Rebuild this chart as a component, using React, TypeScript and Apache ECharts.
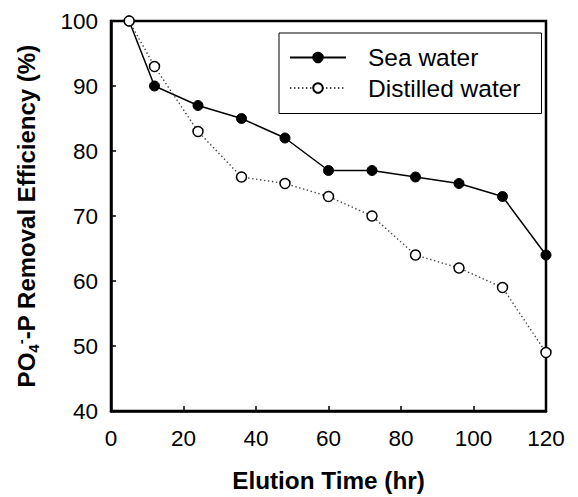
import React, { useEffect, useRef } from "react";
import * as echarts from "echarts";

const times = [5, 12, 24, 36, 48, 60, 72, 84, 96, 108, 120];
const seaWater = [100, 90, 87, 85, 82, 77, 77, 76, 75, 73, 64];
const distilledWater = [100, 93, 83, 76, 75, 73, 70, 64, 62, 59, 49];
const xTicks = [0, 20, 40, 60, 80, 100, 120];
const yTicks = [40, 50, 60, 70, 80, 90, 100];

const FONT = "Liberation Sans, Arial, sans-serif";

export default function App() {
  const ref = useRef<HTMLDivElement>(null);
  useEffect(() => {
    if (!ref.current) return;
    const chart = echarts.init(ref.current, undefined, { renderer: "svg" });
    chart.setOption({
      animation: false,
      backgroundColor: "#fff",
      grid: {
        left: 111,
        right: 32,
        top: 21,
        bottom: 81,
        show: true,
        borderColor: "#000",
        borderWidth: 2.5,
        backgroundColor: "transparent",
      },
      legend: {
        orient: "vertical",
        left: 279,
        top: 33,
        padding: [12, 21, 13, 10],
        itemGap: 5.5,
        itemWidth: 56,
        itemHeight: 12,
        borderColor: "#000",
        borderWidth: 1,
        backgroundColor: "#fff",
        textStyle: {
          fontFamily: FONT,
          fontSize: 24.5,
          color: "#000",
          padding: [0, 0, 0, 17],
        },
        data: ["Sea water", "Distilled water"],
      },
      xAxis: {
        type: "value",
        min: xTicks[0],
        max: xTicks[xTicks.length - 1],
        interval: 20,
        name: "Elution Time (hr)",
        nameLocation: "middle",
        nameGap: 57,
        nameTextStyle: {
          fontFamily: FONT,
          fontSize: 24.3,
          fontWeight: "bold",
          color: "#000",
        },
        axisLine: { show: true, onZero: false, lineStyle: { color: "#000", width: 2.5 } },
        axisTick: { show: true, inside: true, length: 5, lineStyle: { color: "#000", width: 1.5 } },
        axisLabel: {
          margin: 16,
          fontFamily: FONT,
          fontSize: 22.5,
          color: "#000",
        },
        splitLine: { show: false },
      },
      yAxis: {
        type: "value",
        min: yTicks[0],
        max: yTicks[yTicks.length - 1],
        interval: 10,
        name: "PO{sub|4}{sup|-}-P Removal Efficiency (%)",
        nameLocation: "middle",
        nameGap: 70,
        nameRotate: 90,
        nameTextStyle: {
          fontFamily: FONT,
          fontSize: 24,
          fontWeight: "bold",
          color: "#000",
          rich: {
            sub: {
              fontFamily: FONT,
              fontSize: 15,
              fontWeight: "bold",
              color: "#000",
              padding: [14, 0, 0, 0],
            },
            sup: {
              fontFamily: FONT,
              fontSize: 15,
              fontWeight: "bold",
              color: "#000",
              padding: [0, 0, 12, 0],
            },
          },
        },
        axisLine: { show: true, lineStyle: { color: "#000", width: 2.5 } },
        axisTick: { show: true, inside: true, length: 5, lineStyle: { color: "#000", width: 1.5 } },
        axisLabel: {
          margin: 13,
          fontFamily: FONT,
          fontSize: 22.5,
          color: "#000",
        },
        splitLine: { show: false },
      },
      series: [
        {
          name: "Sea water",
          type: "line",
          data: times.map((t, i) => [t, seaWater[i]]),
          symbol: "circle",
          symbolSize: 10,
          lineStyle: { color: "#000", width: 1.5, type: "solid" },
          itemStyle: { color: "#000", borderColor: "#000", borderWidth: 1 },
          z: 2,
        },
        {
          name: "Distilled water",
          type: "line",
          data: times.map((t, i) => [t, distilledWater[i]]),
          symbol: "circle",
          symbolSize: 10,
          lineStyle: { color: "#444", width: 1.4, type: [1.4, 2.6] },
          itemStyle: { color: "#fff", borderColor: "#000", borderWidth: 1.5 },
          z: 3,
        },
      ],
    });
    return () => chart.dispose();
  }, []);
  return (
    <div
      ref={ref}
      style={{ position: "absolute", left: 0, top: 0, width: 578, height: 497 }}
    />
  );
}
